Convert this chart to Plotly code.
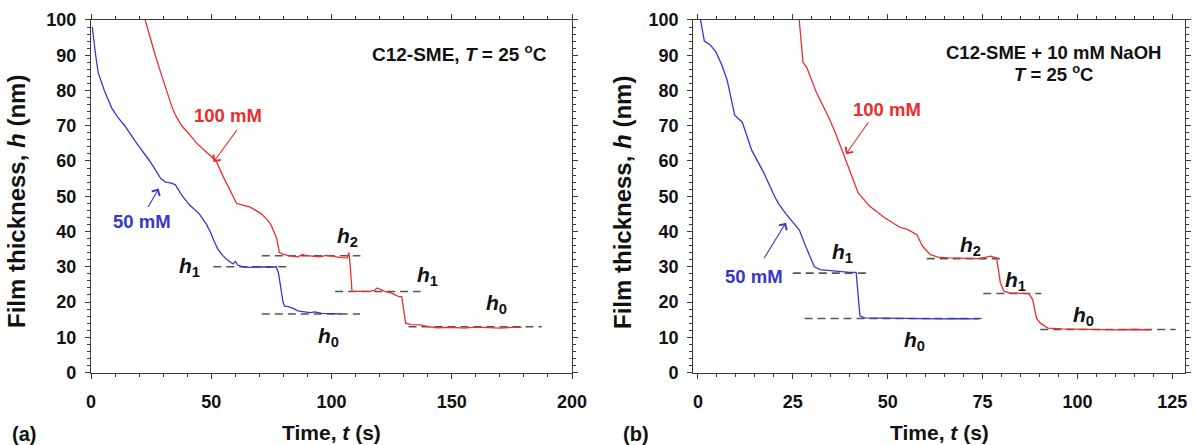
import plotly.graph_objects as go

# ---------------- data: panel (a) C12-SME, 25 C ----------------
a_t50 = [0.5, 1, 1.9, 3, 5.5, 8.6, 11, 14, 19, 24.4, 29, 31, 33, 35, 38, 41, 45, 48, 49.5, 51,
         52.7, 55, 56.6, 59, 60, 61, 63, 66, 70, 74, 77, 78, 79, 79.8, 80.5, 82, 84, 86, 88, 91,
         93, 96, 100, 104]
a_h50 = [98, 95, 90, 85, 80, 75, 72.5, 70, 65, 60, 55, 54, 53.8, 53.3, 50, 47.5, 45, 42, 40, 37.5,
         35, 33, 32, 30.8, 31.5, 30.5, 30, 29.8, 30, 29.8, 30, 28, 24, 20, 18.8, 18.7, 18.2, 17.5, 17.3, 17,
         17.2, 16.8, 16.7, 16.6]
a_t100 = [22.5, 24.5, 26.7, 29, 31.4, 33.8, 35.5, 37.7, 41, 44, 48, 52, 55, 59, 60.5, 63, 66, 68.5,
          70.8, 73, 74.7, 76, 77.2, 78.3, 80, 83, 86, 88, 89, 92, 95, 98, 101, 104, 106.5, 107.2,
          107.8, 108.5, 112, 116, 118, 119, 122, 125, 126.5, 128, 129.2, 130, 130.8, 133, 137, 140,
          144, 150, 155, 160, 165, 170, 175, 179]
a_h100 = [100, 95, 90, 85, 80, 75, 72.5, 70, 67.5, 65, 62.5, 60, 55.5, 50, 48, 47.5, 47, 46,
          45, 43.5, 42, 40, 38, 34, 33.5, 33, 32.8, 33.5, 33.2, 33, 32.8, 33.2, 32.8, 32.6, 32.5, 34,
          30, 23, 23, 23, 23.4, 24, 23, 22.5, 22, 21.5, 21.5, 18, 14, 13.6, 13.5, 13,
          12.7, 12.8, 12.6, 12.9, 12.7, 12.6, 12.8, 12.8]
# reference (dashed) levels: start time, end time, level
a_ref_start = [50.8, 71, 71, 101.5, 132]
a_ref_end = [81.4, 111.8, 112, 137, 187.4]
a_ref_level = [30, 16.6, 33.1, 23, 13]

# ---------------- data: panel (b) C12-SME + 10 mM NaOH ----------------
b_t50 = [0.7, 1.7, 3.2, 4.7, 6.2, 7.7, 9.7, 11.7, 14.2, 17.2, 20.2, 21.2, 23.2, 25.2, 26.7, 28.7,
         30.7, 32.2, 34, 36, 38, 40, 41.7, 42.2, 42.7, 44, 48, 52, 56, 60, 64, 68, 72, 74]
b_h50 = [100, 94, 93, 91, 87.5, 83, 73, 71, 63, 57, 50, 48, 45, 42.5, 40.5, 35,
         30, 29.2, 29, 28.7, 28.5, 28.4, 28.4, 22, 16, 15.5, 15.4, 15.3, 15.2, 15.3, 15.2, 15.3, 15.2, 15.2]
b_t100 = [26.7, 27.2, 27.7, 28.7, 31.2, 34.2, 36.2, 38.2, 40.2, 42.2, 45.2, 49.2, 53.2, 55.2, 57.7,
          59.2, 61.2, 63.2, 66, 70, 74, 77.2, 78.7, 79.7, 80.7, 82.2, 85, 87.2, 88.2, 89.2, 90.2,
          92.2, 96, 100, 105, 110, 115, 119.2]
b_h100 = [100, 94, 88, 86.5, 79.5, 73, 68, 62.4, 56.7, 51, 47.2, 43.9, 41.2, 40.6, 39.1,
          35.8, 33.5, 32.7, 32.5, 32.4, 32.3, 33, 32.5, 25.4, 23, 22.6, 22.5, 22.4, 20.7, 15.5, 14,
          12.6, 12.4, 12.3, 12.2, 12.1, 12.2, 12.1]
b_ref_start = [25, 28.1, 60.3, 75.2, 90.2]
b_ref_end = [44.4, 74.8, 79.6, 90.5, 125.9]
b_ref_level = [28.2, 15.3, 32.3, 22.4, 12.2]

x_ticks_a = [0, 50, 100, 150, 200]
x_ticks_b = [0, 25, 50, 75, 100, 125]
y_ticks = [0, 10, 20, 30, 40, 50, 60, 70, 80, 90, 100]

BLUE = "rgb(55,55,205)"
RED = "rgb(235,45,45)"
GREY = "rgb(85,85,85)"
AXC = "#3a3a3a"
FONT = "Arial, Liberation Sans, sans-serif"

fig = go.Figure()

def add_panel(xa, ya, t50, h50, t100, h100, rs, re, rl):
    for s, e, l in zip(rs, re, rl):
        fig.add_trace(go.Scatter(x=[s, e], y=[l, l], mode="lines", xaxis=xa, yaxis=ya,
                                 line=dict(color=GREY, width=1.6, dash="8px,5px"),
                                 showlegend=False, hoverinfo="skip"))
    fig.add_trace(go.Scatter(x=t50, y=h50, mode="lines", xaxis=xa, yaxis=ya,
                             line=dict(color=BLUE, width=1.3), showlegend=False))
    fig.add_trace(go.Scatter(x=t100, y=h100, mode="lines", xaxis=xa, yaxis=ya,
                             line=dict(color=RED, width=1.3), showlegend=False))

add_panel("x", "y", a_t50, a_h50, a_t100, a_h100, a_ref_start, a_ref_end, a_ref_level)
add_panel("x2", "y2", b_t50, b_h50, b_t100, b_h100, b_ref_start, b_ref_end, b_ref_level)

tickfont = dict(family=FONT, size=18, color="#111", weight="bold")
common_ax = dict(showline=True, linecolor=AXC, linewidth=1.3, mirror="allticks",
                 ticks="outside", ticklen=5, tickcolor=AXC, tickwidth=1.3,
                 showgrid=False, zeroline=False, tickfont=tickfont, automargin=False)
overlay_ax = dict(ticks="inside", ticklen=5, tickcolor=AXC, tickwidth=1.3, mirror="allticks",
                  showline=False, showticklabels=False, showgrid=False, zeroline=False,
                  automargin=False)

X1_DOM = [0.0762, 0.4787]
X2_DOM = [0.5802, 0.9915]
Y_DOM = [0.1629, 0.9551]

fig.update_layout(
    width=1195, height=445, margin=dict(l=0, r=0, t=0, b=0, autoexpand=False),
    paper_bgcolor="white", plot_bgcolor="white",
    xaxis=dict(domain=X1_DOM, anchor="y", range=[0, 200], tickvals=x_ticks_a,
               ticklabelstandoff=8,
               minor=dict(dtick=10, ticklen=3, ticks="outside", tickcolor=AXC), **common_ax),
    yaxis=dict(domain=Y_DOM, anchor="x", range=[0, 100], tickvals=y_ticks,
               ticklabelstandoff=5,
               minor=dict(dtick=2, ticklen=3, ticks="outside", tickcolor=AXC), **common_ax),
    xaxis2=dict(domain=X2_DOM, anchor="y2", range=[-1.2, 128.3], tickvals=x_ticks_b,
                ticklabelstandoff=8,
                minor=dict(dtick=5, ticklen=3, ticks="outside", tickcolor=AXC), **common_ax),
    yaxis2=dict(domain=Y_DOM, anchor="x2", range=[0, 100], tickvals=y_ticks,
                ticklabelstandoff=5,
                minor=dict(dtick=2, ticklen=3, ticks="outside", tickcolor=AXC), **common_ax),
    # inside halves of the crossing major ticks
    xaxis3=dict(domain=X1_DOM, anchor="y", overlaying="x", range=[0, 200], tickvals=x_ticks_a, **overlay_ax),
    yaxis3=dict(domain=Y_DOM, anchor="x", overlaying="y", range=[0, 100], tickvals=y_ticks, **overlay_ax),
    xaxis4=dict(domain=X2_DOM, anchor="y2", overlaying="x2", range=[-1.2, 128.3], tickvals=x_ticks_b, **overlay_ax),
    yaxis4=dict(domain=Y_DOM, anchor="x2", overlaying="y2", range=[0, 100], tickvals=y_ticks, **overlay_ax),
)

ann = []
def txt(x, y, text, xref="paper", yref="paper", size=18, color="#111", **kw):
    ann.append(dict(x=x, y=y, xref=xref, yref=yref, text=text, showarrow=False,
                    xanchor="center", yanchor="middle",
                    font=dict(family=FONT, size=size, color=color), **kw))

# axis titles
ytitle = "<b>Film thickness, <i>h</i> (nm)</b>"
xtitle = "<b>Time, <i>t</i> (s)</b>"
txt(17 / 1195, 1 - 202 / 445, ytitle, size=24, textangle=-90)
txt(623 / 1195, 1 - 202 / 445, ytitle, size=24, textangle=-90)
txt(sum(X1_DOM) / 2, 1 - 432 / 445, xtitle, size=21)
txt(sum(X2_DOM) / 2, 1 - 432 / 445, xtitle, size=21)
txt(24 / 1195, 1 - 434 / 445, "<b>(a)</b>", size=20)
txt(636 / 1195, 1 - 434 / 445, "<b>(b)</b>", size=20)

# panel (a) labels
txt(153, 90.6, "<b>C12-SME, <i>T</i> = 25 <sup>o</sup>C</b>", "x", "y", size=19)
txt(56.8, 73, "<b>100 mM</b>", "x", "y", size=18.5, color=RED)
txt(21.1, 42.7, "<b>50 mM</b>", "x", "y", size=18.5, color=BLUE)
hl = "<b><i>h</i><sub>{}</sub></b>"
txt(40.8, 29.9, hl.format(1), "x", "y", size=21)
txt(106.7, 38.4, hl.format(2), "x", "y", size=21)
txt(139.7, 27.5, hl.format(1), "x", "y", size=21)
txt(168.7, 19.5, hl.format(0), "x", "y", size=21)
txt(98.9, 10.0, hl.format(0), "x", "y", size=21)

# panel (b) labels
txt(93.7, 90.7, "<b>C12-SME + 10 mM NaOH</b>", "x2", "y2", size=18.5)
txt(93.7, 85.0, "<b><i>T</i> = 25 <sup>o</sup>C</b>", "x2", "y2", size=18.5)
txt(49.7, 74.7, "<b>100 mM</b>", "x2", "y2", size=18.5, color=RED)
txt(14.7, 27.3, "<b>50 mM</b>", "x2", "y2", size=18.5, color=BLUE)
txt(38.2, 33.9, hl.format(1), "x2", "y2", size=21)
txt(71.7, 35.8, hl.format(2), "x2", "y2", size=21)
txt(83.7, 25.9, hl.format(1), "x2", "y2", size=21)
txt(101.7, 15.9, hl.format(0), "x2", "y2", size=21)
txt(57.2, 8.8, hl.format(0), "x2", "y2", size=21)

# arrows
def arrow(xr, yr, tail, tip, color):
    ann.append(dict(x=tip[0], y=tip[1], ax=tail[0], ay=tail[1], xref=xr, yref=yr,
                    axref=xr, ayref=yr, text="", showarrow=True, arrowhead=4,
                    arrowsize=1.6, arrowwidth=1.1, arrowcolor=color))

arrow("x", "y", (61.1, 69.2), (50.9, 59.7), RED)
arrow("x", "y", (23.4, 46.5), (28.1, 52.2), BLUE)
arrow("x2", "y2", (45.2, 71.4), (39.0, 61.9), RED)
arrow("x2", "y2", (17.2, 32.0), (23.2, 42.5), BLUE)

fig.update_layout(annotations=ann)
fig.write_html("out.html", config={"displayModeBar": False},
               post_script="document.body.style.margin='0px';document.body.style.overflow='hidden';")
